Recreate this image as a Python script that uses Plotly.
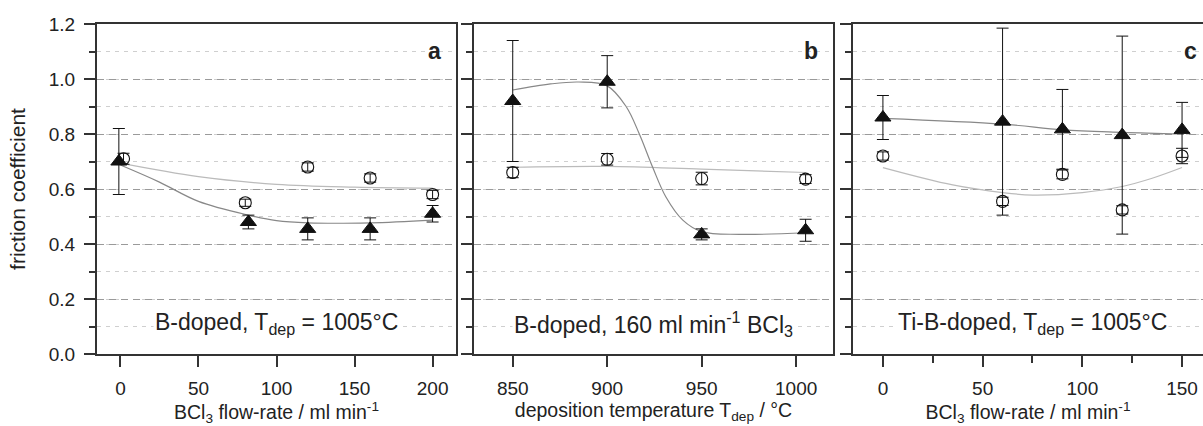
import plotly.graph_objects as go

# ---------------- data ----------------
# panel a : B-doped, T_dep = 1005 °C, x = BCl3 flow-rate
a_circ_x = [2, 80, 120, 160, 200]
a_circ_y = [0.71, 0.55, 0.68, 0.64, 0.58]
a_circ_e = [0.02, 0.013, 0.015, 0.015, 0.015]
a_tri_x = [-1, 82, 120, 160, 200]
a_tri_y = [0.70, 0.48, 0.455, 0.455, 0.51]
a_tri_e = [0.12, 0.025, 0.04, 0.04, 0.03]
a_fit_tri_x = [0, 25, 50, 82, 100, 120, 160, 200]
a_fit_tri_y = [0.687, 0.625, 0.555, 0.505, 0.485, 0.477, 0.477, 0.487]
a_fit_circ_x = [0, 50, 100, 150, 200]
a_fit_circ_y = [0.694, 0.645, 0.617, 0.607, 0.603]

# panel b : B-doped, 160 ml/min BCl3, x = deposition temperature
b_x = [850, 900, 950, 1005]
b_tri_y = [0.92, 0.99, 0.435, 0.45]
b_tri_e = [0.22, 0.095, 0.02, 0.04]
b_circ_y = [0.66, 0.708, 0.638, 0.636]
b_circ_e = [0.019, 0.021, 0.023, 0.016]
b_fit_tri_x = [850, 870, 885, 900, 910, 917, 924, 931, 940, 950, 970, 1005]
b_fit_tri_y = [0.96, 0.982, 0.989, 0.975, 0.90, 0.80, 0.68, 0.572, 0.487, 0.445, 0.435, 0.441]
b_fit_circ_x = [850, 900, 950, 1005]
b_fit_circ_y = [0.679, 0.682, 0.672, 0.66]

# panel c : Ti-B-doped, T_dep = 1005 °C, x = BCl3 flow-rate
c_x = [0, 60, 90, 120, 150]
c_tri_y = [0.86, 0.845, 0.817, 0.796, 0.815]
c_tri_e = [0.08, 0.34, 0.145, 0.36, 0.10]
c_circ_y = [0.72, 0.555, 0.653, 0.524, 0.72]
c_circ_e = [0.015, 0.015, 0.016, 0.015, 0.028]
c_fit_tri_x = [0, 60, 90, 120, 150]
c_fit_tri_y = [0.857, 0.836, 0.815, 0.806, 0.80]
c_fit_circ_x = [0, 35, 60, 75, 100, 120, 135, 150]
c_fit_circ_y = [0.678, 0.615, 0.587, 0.578, 0.587, 0.609, 0.639, 0.678]

y_ticks = [0.0, 0.2, 0.4, 0.6, 0.8, 1.0, 1.2]
panel_letters = ["a", "b", "c"]
panel_notes = ["B-doped, T<sub>dep</sub> = 1005°C",
               "B-doped, 160 ml min<sup>-1</sup> BCl<sub>3</sub>",
               "Ti-B-doped, T<sub>dep</sub> = 1005°C"]
x_titles = ["BCl<sub>3</sub> flow-rate / ml min<sup>-1</sup>",
            "deposition temperature T<sub>dep</sub> / °C",
            "BCl<sub>3</sub> flow-rate / ml min<sup>-1</sup>"]
x_ranges = [[-15, 215], [829.5, 1019.5], [-15, 160.5]]
x_dticks = [50, 50, 50]

# ---------------- layout geometry ----------------
W, H = 1203, 426
top_px, bot_px = 24, 354
panels_px = [(97, 456), (474, 833), (853, 1203)]
FONT = "Liberation Sans"
INK = "#222222"
FRAME = "#333333"

fig = go.Figure()

def add_panel(i, cx, cy, ce, tx, ty, te, fcx, fcy, ftx, fty):
    xa = "x" if i == 0 else f"x{i+1}"
    ya = "y" if i == 0 else f"y{i+1}"
    # fit curves
    fig.add_trace(go.Scatter(x=fcx, y=fcy, mode="lines", xaxis=xa, yaxis=ya,
                             line=dict(color="#bbbbbb", width=1.2, shape="spline"),
                             showlegend=False, hoverinfo="skip"))
    fig.add_trace(go.Scatter(x=ftx, y=fty, mode="lines", xaxis=xa, yaxis=ya,
                             line=dict(color="#888888", width=1.2, shape="spline"),
                             showlegend=False, hoverinfo="skip"))
    # open circles
    fig.add_trace(go.Scatter(x=cx, y=cy, mode="markers", xaxis=xa, yaxis=ya,
                             marker=dict(symbol="circle-open", size=12,
                                         color="#111111", line=dict(width=1.1, color="#111111")),
                             error_y=dict(type="data", array=ce, visible=True,
                                          color="#111111", thickness=1, width=6),
                             showlegend=False))
    # filled triangles
    fig.add_trace(go.Scatter(x=tx, y=ty, mode="markers", xaxis=xa, yaxis=ya,
                             marker=dict(symbol="triangle-up", size=14,
                                         color="#111111", line=dict(width=1, color="#111111")),
                             error_y=dict(type="data", array=te, visible=True,
                                          color="#111111", thickness=1, width=6),
                             showlegend=False))

add_panel(0, a_circ_x, a_circ_y, a_circ_e, a_tri_x, a_tri_y, a_tri_e,
          a_fit_circ_x, a_fit_circ_y, a_fit_tri_x, a_fit_tri_y)
add_panel(1, b_x, b_circ_y, b_circ_e, b_x, b_tri_y, b_tri_e,
          b_fit_circ_x, b_fit_circ_y, b_fit_tri_x, b_fit_tri_y)
add_panel(2, c_x, c_circ_y, c_circ_e, c_x, c_tri_y, c_tri_e,
          c_fit_circ_x, c_fit_circ_y, c_fit_tri_x, c_fit_tri_y)

ydom = [(H - bot_px) / H, (H - top_px) / H]
layout = dict(width=W, height=H, margin=dict(l=0, r=0, t=0, b=0),
              template="none", paper_bgcolor="white", plot_bgcolor="white",
              font=dict(family=FONT, size=19, color=INK), showlegend=False)

annotations = []
for i in range(3):
    x0, x1 = panels_px[i]
    sfx = "" if i == 0 else str(i + 1)
    layout["xaxis" + sfx] = dict(
        domain=[x0 / W, x1 / W], anchor="y" + sfx, range=x_ranges[i],
        dtick=x_dticks[i], tick0=0, ticks="outside", ticklen=11, tickwidth=2,
        tickcolor=FRAME, showline=True, linecolor=FRAME, linewidth=2,
        mirror=True, showgrid=False, zeroline=False,
        tickfont=dict(size=19, family=FONT, color=INK),
        ticklabelstandoff=5,
        title=dict(text=x_titles[i], font=dict(size=19.5, family=FONT, color=INK), standoff=3),
        minor=(dict(dtick=25, ticks="outside", ticklen=7, tickwidth=2, tickcolor=FRAME,
                    showgrid=False) if i == 2 else None),
    )
    layout["yaxis" + sfx] = dict(
        domain=ydom, anchor="x" + sfx, range=[0, 1.2], tickvals=y_ticks,
        tickformat=".1f", ticks="outside", ticklen=11, tickwidth=2, tickcolor=FRAME,
        showticklabels=(i == 0), showline=True, linecolor=FRAME, linewidth=2,
        mirror=(i < 2), zeroline=False,
        showgrid=True, gridcolor="#9a9a9a", gridwidth=1, griddash="7px,5px",
        tickfont=dict(size=19, family=FONT, color=INK),
        ticklabelstandoff=5,
        minor=dict(dtick=0.1, tick0=0, ticks="outside", ticklen=6, tickwidth=2,
                   tickcolor=FRAME, showgrid=True, gridcolor="#cfcfcf",
                   gridwidth=1, griddash="4px,5px"),
        title=(dict(text="friction coefficient", font=dict(size=21, family=FONT, color=INK),
                    standoff=17) if i == 0 else None),
    )
    ref = "x" + (" domain" if i == 0 else f"{i+1} domain")
    yref = "y" + (" domain" if i == 0 else f"{i+1} domain")
    span = (x1 - x0)
    full = 359.0
    annotations.append(dict(text="<b>" + panel_letters[i] + "</b>",
                            xref=ref, yref=yref, x=0.964 * full / span, y=1.1 / 1.2,
                            xanchor="right", yanchor="middle", showarrow=False,
                            font=dict(size=23, family=FONT, color=INK)))
    annotations.append(dict(text=panel_notes[i], xref=ref, yref=yref,
                            x=0.5 * full / span, y=0.11 / 1.2,
                            xanchor="center", yanchor="middle", showarrow=False,
                            bgcolor="white", borderpad=1,
                            font=dict(size=23, family=FONT, color=INK)))
layout["annotations"] = annotations
fig.update_layout(**layout)
fig.write_html("out.html")
